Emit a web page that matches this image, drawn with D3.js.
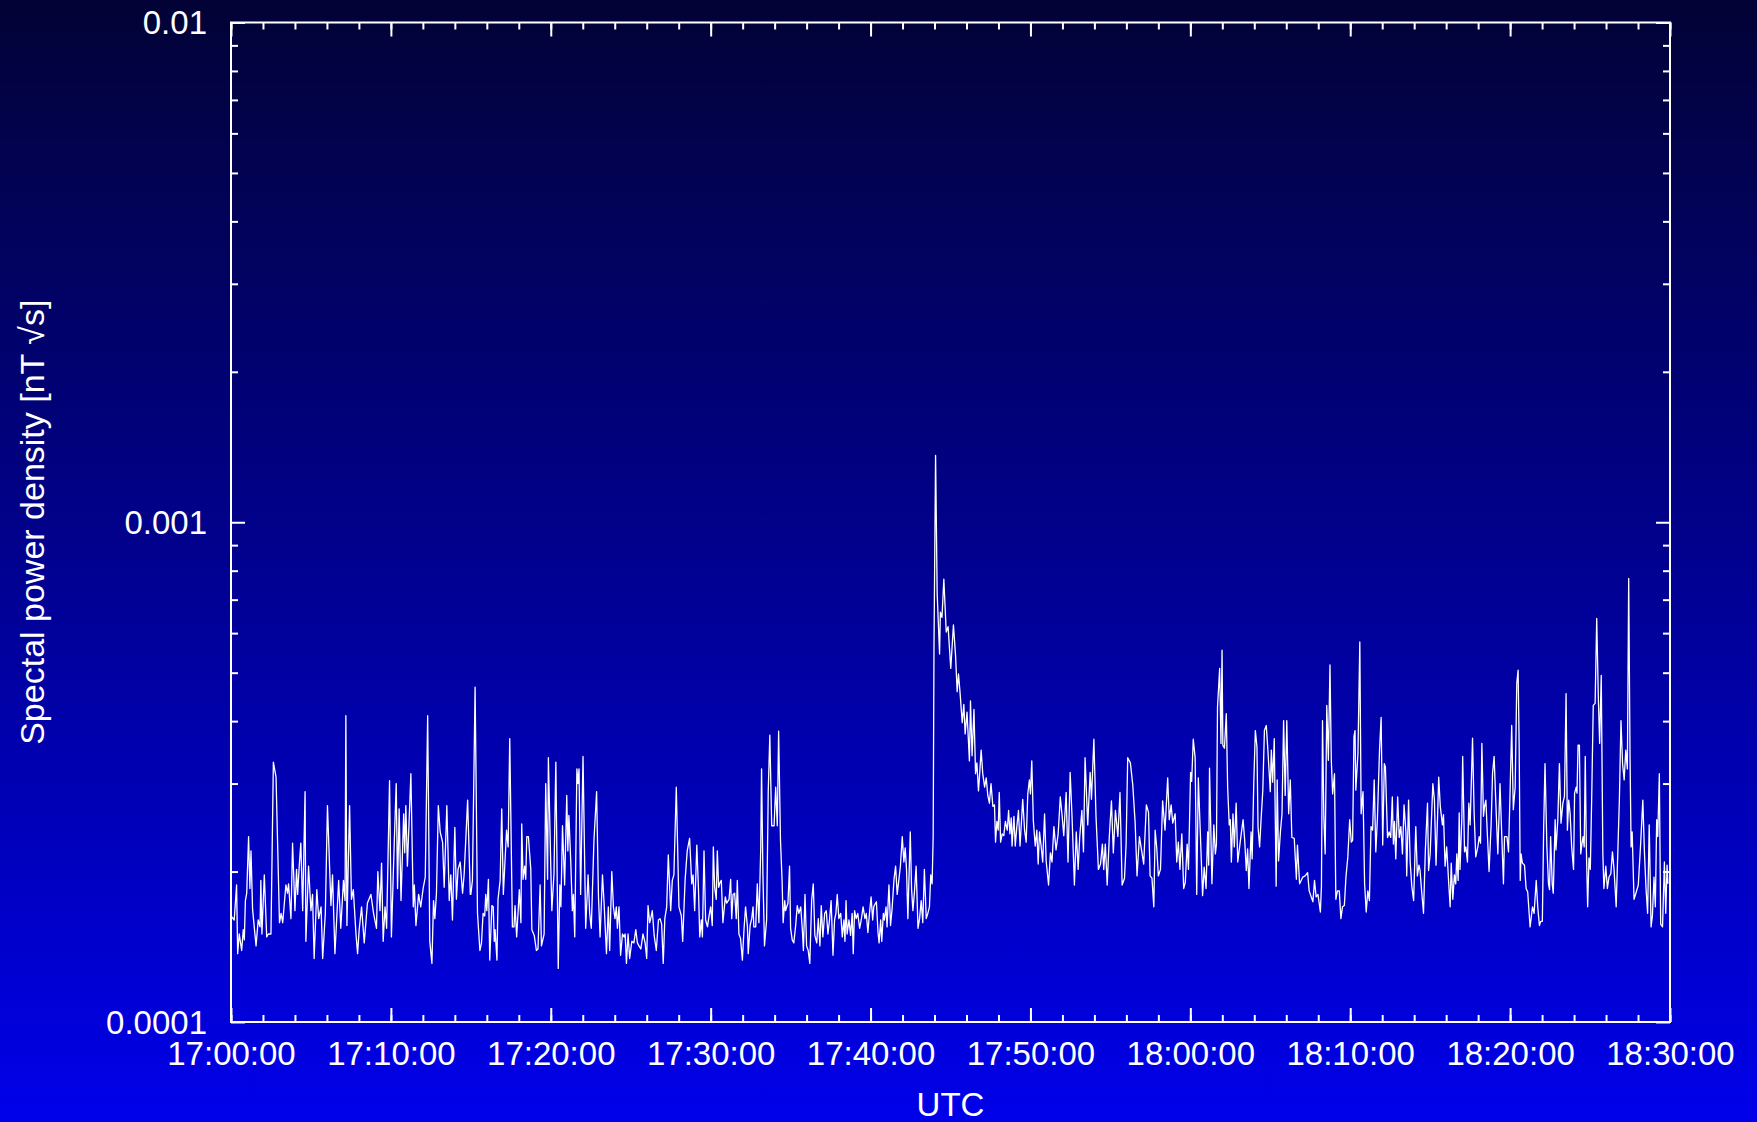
<!DOCTYPE html>
<html>
<head>
<meta charset="utf-8">
<script src="https://cdn.jsdelivr.net/npm/d3@7"></script>
<style>
html, body { margin: 0; padding: 0; background: #00008a; }
svg { display: block; }
</style>
</head>
<body>
<svg id="chart" width="1757" height="1122"></svg>
<script>
// spectral power density, values in units of 1e-4 nT*sqrt(s)
// each pair: [seconds after 17:00:00 UTC, value]
var UNIT = 1e-4;

var seg1700 = [[0,1.63],[12,1.60],[21,1.88],[25,1.37],[31,1.50],[40,1.39],[46,1.53],[50,1.46],[54,1.75],[59,1.81],
  [66,2.35],[71,1.85],[75,2.20],[81,1.68],[94,1.42],[102,1.60],[109,1.55],[112,1.92],[116,1.50],[125,1.97],
  [134,1.48],[140,1.50],[150,1.50],[159,3.31],[169,3.09],[182,1.58],[188,1.65],[194,1.58],[206,1.88],[212,1.81],
  [216,1.89],[225,1.61],[231,2.28],[240,1.67],[246,2.02],[250,1.80],[256,2.05],[262,2.28],[269,1.67],[278,2.89],
  [281,1.45],[291,2.05],[300,1.67],[306,1.80],[312,1.34],[322,1.84],[329,1.61],[338,1.70],[344,1.34],[354,1.65],
  [362,2.71],[375,1.71],[381,1.97],[390,1.37],[404,1.92],[412,1.54],[422,1.92],[428,1.75],[431,4.10],[435,1.56],
  [445,2.71],[452,1.76],[459,1.84],[469,1.50],[475,1.37],[481,1.53],[490,1.70],[500,1.44],[512,1.73],[525,1.80],
  [535,1.65],[546,1.54],[551,2.00],[559,1.67],[565,2.08],[571,1.45],[578,1.70],[584,1.54],[595,3.04],[602,1.48],
  [612,2.23],[620,3.00],[625,1.85],[631,2.67],[638,1.75],[648,2.61],[652,2.18],[656,2.71],[662,2.05],[675,3.14],
  [684,1.70],[688,1.88],[694,1.56],[704,1.80],[712,1.70],[721,1.85],[729,1.95],[738,4.10],[746,1.45],[754,1.31],
  [760,1.75],[765,1.61],[771,1.81],[778,2.71],[785,2.40],[794,2.29],[800,1.86],[810,2.71],[819,1.75],[825,1.97],
  [831,1.60],[840,2.45],[846,1.76],[852,2.02],[860,2.09],[869,1.81],[875,1.98],[888,2.78],[898,1.80]];

var seg1715 = [[900,1.80],[906,1.92],[916,4.68],[925,1.65],[934,1.39],[940,1.44],[946,1.65],[952,1.63],[956,1.80],[960,1.67],
  [966,1.93],[971,1.33],[979,1.71],[984,1.70],[988,1.45],[991,1.53],[998,1.33],[1002,1.76],[1010,1.92],[1016,2.67],
  [1022,1.80],[1034,2.42],[1040,2.24],[1046,3.69],[1056,1.55],[1062,1.55],[1066,1.71],[1072,1.48],[1082,1.84],[1088,1.58],
  [1091,2.49],[1096,1.93],[1102,2.05],[1106,1.93],[1110,2.35],[1116,2.35],[1125,2.02],[1129,1.53],[1138,1.49],[1146,1.39],
  [1152,1.40],[1160,1.88],[1165,1.42],[1175,1.50],[1181,3.00],[1188,1.93],[1191,3.38],[1200,2.05],[1204,1.67],[1212,1.98],
  [1219,3.31],[1228,1.28],[1234,1.88],[1238,1.70],[1244,2.47],[1252,1.88],[1260,2.84],[1264,2.20],[1268,2.59],[1275,2.09],
  [1281,1.67],[1285,1.80],[1290,1.48],[1298,3.21],[1302,3.00],[1306,3.21],[1312,1.80],[1321,3.40],[1331,1.54],[1340,1.97],
  [1346,1.65],[1352,1.54],[1362,2.31],[1372,2.89],[1379,1.78],[1385,1.48],[1394,1.97],[1400,1.73],[1409,1.37],[1416,1.70],
  [1421,1.39],[1429,2.00],[1435,1.70],[1441,1.61],[1446,1.70],[1450,1.54],[1456,1.70],[1462,1.36],[1469,1.50],[1475,1.48],
  [1479,1.50],[1484,1.31],[1490,1.50],[1496,1.34],[1504,1.45],[1512,1.44],[1519,1.53],[1525,1.44],[1531,1.42],[1538,1.40],
  [1546,1.50],[1554,1.44],[1560,1.34],[1565,1.71],[1571,1.58],[1575,1.61],[1581,1.67],[1588,1.49],[1596,1.39],[1604,1.60],
  [1610,1.61],[1616,1.57],[1622,1.31],[1628,1.61],[1635,1.70],[1641,2.16],[1650,1.67],[1656,1.92],[1662,1.97],[1671,2.95],
  [1681,1.70],[1690,1.63],[1695,1.45],[1704,1.92],[1712,2.20],[1721,2.33],[1729,1.89],[1734,1.97],[1740,1.67],[1748,2.26],
  [1754,1.86],[1759,1.48],[1765,1.60],[1769,1.48],[1775,2.20],[1781,1.60],[1788,1.55],[1794,1.63]];

var seg1730 = [[1800,1.70],[1806,1.56],[1810,2.24],[1815,1.86],[1821,1.76],[1825,2.20],[1830,1.86],[1835,1.90],[1840,1.92],[1846,1.58],
  [1855,1.78],[1860,1.73],[1869,1.76],[1875,1.93],[1879,1.61],[1884,1.80],[1890,1.81],[1896,1.61],[1900,1.92],[1906,1.50],
  [1912,1.47],[1919,1.33],[1925,1.53],[1931,1.70],[1938,1.55],[1941,1.37],[1948,1.56],[1954,1.61],[1959,1.70],[1962,1.55],
  [1969,1.55],[1975,1.89],[1981,1.58],[1988,2.24],[1991,3.21],[1996,1.98],[2002,1.42],[2010,1.60],[2016,2.89],[2022,3.75],
  [2029,2.47],[2038,2.47],[2044,2.95],[2050,2.47],[2055,3.82],[2062,2.31],[2068,1.92],[2072,1.58],[2078,1.75],[2081,1.67],
  [2090,1.73],[2096,2.05],[2100,1.54],[2106,1.46],[2112,1.44],[2119,1.56],[2125,1.71],[2131,1.65],[2138,1.70],[2144,1.53],
  [2148,1.39],[2154,1.80],[2160,1.42],[2166,1.39],[2172,1.31],[2179,1.75],[2185,1.89],[2191,1.49],[2198,1.44],[2204,1.61],
  [2210,1.42],[2215,1.71],[2221,1.48],[2228,1.65],[2234,1.67],[2240,1.50],[2246,1.60],[2252,1.75],[2259,1.36],[2265,1.60],
  [2270,1.65],[2275,1.80],[2281,1.61],[2288,1.65],[2294,1.48],[2300,1.60],[2304,1.45],[2308,1.75],[2312,1.50],[2319,1.60],
  [2325,1.49],[2331,1.65],[2335,1.37],[2340,1.67],[2346,1.61],[2352,1.65],[2359,1.54],[2365,1.60],[2372,1.70],[2379,1.61],
  [2384,1.65],[2390,1.51],[2396,1.65],[2402,1.78],[2408,1.60],[2412,1.70],[2419,1.73],[2422,1.74],[2428,1.51],[2432,1.44],
  [2438,1.60],[2442,1.45],[2448,1.65],[2452,1.60],[2458,1.70],[2462,1.55],[2469,1.88],[2475,1.56],[2481,1.69],[2488,1.93],
  [2494,2.05],[2500,1.80],[2506,1.92],[2512,2.05],[2519,2.35],[2525,2.09],[2530,2.23],[2535,2.02],[2540,1.61],[2549,2.40],
  [2554,1.84],[2559,1.67],[2565,1.83],[2571,2.05],[2578,1.54],[2584,1.61],[2590,1.75],[2596,1.58],[2602,2.02],[2609,1.61],
  [2615,1.65],[2621,1.70],[2626,1.97],[2631,1.89],[2635,2.35],[2638,5.59],[2644,13.6],[2650,7.19],[2659,5.45],[2662,6.61],
  [2668,6.45],[2675,7.69],[2684,6.03],[2691,6.18]];

var seg1745 = [[2701,5.10],[2711,6.23],[2719,5.41],[2725,4.58],[2730,4.97],[2736,4.55],[2744,3.97],[2750,4.32],[2755,3.77],[2762,4.17],
  [2771,3.33],[2775,4.39],[2781,3.41],[2788,4.22],[2794,3.14],[2799,3.30],[2805,2.90],[2809,3.11],[2815,3.50],[2821,3.14],
  [2828,2.95],[2834,3.08],[2840,2.84],[2846,2.74],[2852,3.00],[2859,2.70],[2865,2.72],[2869,2.29],[2874,2.52],[2879,2.42],
  [2883,2.88],[2888,2.29],[2894,2.38],[2900,2.36],[2906,2.52],[2913,2.42],[2918,2.65],[2923,2.38],[2928,2.56],[2931,2.25],
  [2938,2.58],[2943,2.25],[2949,2.46],[2955,2.65],[2961,2.25],[2971,2.79],[2978,2.42],[2984,2.29],[2990,2.86],[2996,3.05],
  [3000,2.86],[3005,3.33],[3011,2.52],[3018,2.25],[3024,2.42],[3029,2.07],[3034,2.40],[3040,2.25],[3046,2.09],[3053,2.61],
  [3059,2.10],[3068,1.88],[3075,2.18],[3081,2.09],[3088,2.46],[3096,2.21],[3104,2.38],[3112,2.82],[3119,2.58],[3125,2.36],
  [3134,2.88],[3141,2.09],[3149,3.16],[3156,2.58],[3165,1.88],[3172,2.40],[3179,2.02],[3185,2.35],[3193,2.65],[3199,2.19],
  [3205,3.38],[3215,2.48],[3224,3.16],[3229,2.79],[3238,3.68],[3246,2.58],[3255,2.02],[3263,2.07],[3270,2.27],[3275,2.02],
  [3281,2.27],[3288,1.88],[3296,2.35],[3304,2.77],[3311,2.18],[3319,2.65],[3328,2.35],[3336,2.88],[3344,1.88],[3353,1.94],
  [3359,2.27],[3365,3.38],[3375,3.30],[3384,2.98],[3393,2.50],[3400,1.96],[3409,2.35],[3418,2.19],[3425,2.07],[3435,2.72],
  [3443,2.63],[3449,1.96],[3456,1.94],[3463,1.70],[3468,2.42],[3474,2.23],[3480,1.96],[3488,2.02],[3496,2.77],[3505,2.42],
  [3515,3.08],[3521,2.54],[3528,2.72],[3534,2.50],[3543,2.61],[3549,2.09],[3555,2.29],[3561,2.02],[3568,2.38],[3575,1.85],
  [3581,1.90],[3588,2.27],[3593,2.02]];

var seg1800 = [[3601,3.16],[3605,3.03],[3611,3.68],[3618,3.38],[3624,1.80],[3630,3.08],[3646,1.79],[3652,2.04],[3659,1.85],[3665,2.40],
  [3669,2.06],[3672,3.22],[3681,1.89],[3688,2.48],[3694,2.17],[3698,2.27],[3702,4.27],[3710,5.10],[3715,3.61],[3719,5.55],
  [3722,3.58],[3728,3.53],[3735,4.14],[3740,2.95],[3746,2.48],[3750,2.54],[3754,2.09],[3760,2.61],[3765,2.24],[3772,2.74],
  [3778,2.09],[3784,2.22],[3791,2.38],[3798,2.54],[3804,2.31],[3810,2.01],[3815,2.22],[3820,1.85],[3828,2.40],[3832,2.12],
  [3838,3.00],[3844,3.83],[3850,3.55],[3854,2.46],[3860,2.24],[3866,2.57],[3872,2.91],[3878,3.83],[3885,3.92],[3891,3.50],
  [3900,2.89],[3904,3.50],[3909,3.02],[3915,3.69],[3922,1.87],[3926,3.05],[3931,2.10],[3938,2.40],[3944,2.61],[3950,4.01],
  [3956,2.84],[3962,4.01],[3969,2.61],[3975,3.05],[3981,2.34],[3990,2.33],[3998,1.93],[4002,2.26],[4010,1.89],[4016,1.92],
  [4022,1.95],[4031,1.96],[4040,1.99],[4046,1.83],[4052,1.79],[4060,1.74],[4066,1.92],[4072,1.78],[4079,1.80],[4088,1.66],
  [4092,1.87],[4096,4.01],[4101,2.57],[4106,2.17],[4112,4.30],[4118,3.34],[4124,5.18],[4129,3.34],[4134,2.86],[4141,3.14],
  [4146,1.76],[4152,1.83],[4159,1.83],[4165,1.61],[4171,1.70],[4178,1.71],[4184,1.95],[4191,2.14],[4198,2.54],[4204,2.29],
  [4209,2.31],[4214,3.72],[4218,3.83],[4221,2.91],[4229,3.45],[4236,5.76],[4241,2.61],[4248,2.89],[4254,1.89],[4260,1.66],
  [4266,1.83],[4272,1.75],[4278,2.46],[4284,2.42],[4290,3.05],[4296,2.19],[4302,2.55],[4310,3.50],[4316,4.07],[4322,2.26],
  [4328,3.29],[4332,3.24],[4340,2.34],[4346,2.40],[4352,2.34],[4358,2.82],[4362,2.27],[4366,2.52],[4371,2.12],[4378,2.82],
  [4384,2.34],[4390,2.46],[4396,2.17],[4402,2.72],[4409,2.40],[4412,1.96],[4419,2.78],[4425,2.09],[4431,1.87],[4438,1.75],
  [4446,2.46],[4452,1.96],[4458,2.06],[4462,2.01],[4469,1.80],[4475,1.65],[4482,2.21],[4490,2.74],[4494,2.01],[4500,2.17]];

var seg1815 = [[4510,3.00],[4516,2.78],[4522,2.06],[4528,2.60],[4532,3.09],[4538,2.70],[4546,2.48],[4550,2.60],[4556,2.05],[4562,2.24],
  [4569,1.92],[4575,1.70],[4579,2.08],[4585,1.76],[4591,1.97],[4596,1.89],[4600,2.17],[4605,1.92],[4609,2.62],[4612,2.02],
  [4619,2.58],[4622,3.40],[4629,2.19],[4634,2.24],[4640,2.09],[4645,2.74],[4650,2.48],[4659,3.70],[4665,2.62],[4671,2.14],
  [4679,2.24],[4684,2.35],[4689,2.28],[4694,3.61],[4700,2.58],[4704,2.70],[4709,2.78],[4715,2.35],[4721,2.00],[4729,2.50],
  [4734,3.14],[4740,3.40],[4746,2.78],[4754,2.17],[4762,3.00],[4768,2.42],[4775,1.89],[4779,2.35],[4788,2.35],[4794,2.19],
  [4800,2.91],[4806,3.92],[4812,2.66],[4819,2.95],[4825,4.76],[4830,5.06],[4834,3.56],[4838,1.92],[4841,2.17],[4846,2.08],
  [4854,2.06],[4860,1.85],[4866,1.82],[4875,1.55],[4884,1.70],[4890,1.65],[4898,1.92],[4904,1.69],[4910,1.56],[4915,1.59],
  [4921,1.59],[4926,2.46],[4931,3.29],[4938,2.24],[4944,1.89],[4948,1.84],[4952,2.35],[4958,1.89],[4962,1.81],[4969,2.54],
  [4972,2.21],[4979,2.54],[4985,3.29],[4991,2.50],[4998,2.74],[5004,2.83],[5010,4.54],[5015,2.42],[5020,2.78],[5025,2.62],
  [5031,2.24],[5038,2.02],[5042,2.87],[5048,2.95],[5051,2.87],[5055,3.58],[5060,3.58],[5065,2.17],[5070,2.28],[5074,2.35],
  [5078,2.24],[5082,3.40],[5086,2.24],[5091,1.70],[5096,2.13],[5101,2.02],[5106,2.78],[5112,4.30],[5119,4.34],[5125,6.42],
  [5131,4.47],[5136,3.61],[5142,4.94],[5148,2.17],[5152,1.85],[5159,2.05],[5165,1.85],[5171,1.95],[5178,1.98],[5184,2.19],
  [5190,2.02],[5198,1.70],[5204,2.17],[5210,2.78],[5216,4.01],[5222,3.29],[5228,3.05],[5234,3.50],[5240,3.21],[5245,7.72],
  [5250,3.40],[5254,2.24],[5258,2.40],[5265,1.76],[5272,1.81],[5281,1.88],[5290,2.28],[5298,2.78],[5304,2.19],[5310,1.85],
  [5316,1.65],[5322,2.48],[5329,1.55],[5334,1.63],[5340,1.95],[5345,1.70],[5350,2.54],[5354,2.35],[5360,3.14],[5365,1.57],
  [5372,1.55],[5379,2.09],[5384,1.65],[5389,2.06],[5392,1.89]];

var yMajor = [1e-4, 1e-3, 1e-2];
var yLabels = ["0.0001", "0.001", "0.01"];
var xLabel = "UTC";
var yTitle = "Spectal power density [nT \u221As]";

var W = 1757, H = 1122;
var margin = {top: 22.5, right: 87, bottom: 100, left: 231};
var width = W - margin.left - margin.right,
    height = H - margin.top - margin.bottom;
var FONT = '"Liberation Sans", Arial, Helvetica, sans-serif';
var FS = 33;

var t0 = Date.UTC(2000, 0, 1, 17, 0, 0);
var samples = [].concat(seg1700, seg1715, seg1730, seg1745, seg1800, seg1815)
  .map(function(d) { return {t: new Date(t0 + d[0] * 1000), v: d[1] * UNIT}; });

var svg = d3.select("#chart");

// background gradient, dark navy at top to bright blue at bottom
var grad = svg.append("defs").append("linearGradient")
    .attr("id", "bg").attr("x1", 0).attr("y1", 0).attr("x2", 0).attr("y2", 1);
grad.append("stop").attr("offset", "0%").attr("stop-color", "#020236");
grad.append("stop").attr("offset", "100%").attr("stop-color", "#0000ea");
svg.append("rect").attr("width", W).attr("height", H).attr("fill", "url(#bg)");

svg.select("defs").append("clipPath").attr("id", "clip")
  .append("rect").attr("width", width).attr("height", height);

var g = svg.append("g")
    .attr("transform", "translate(" + margin.left + "," + margin.top + ")");

var x = d3.scaleUtc()
    .domain([new Date(t0), new Date(t0 + 5400 * 1000)])
    .range([0, width]);
var y = d3.scaleLog()
    .domain([1e-4, 1e-2])
    .range([height, 0]);

var yMinor = y.ticks().filter(function(v) { return yMajor.indexOf(v) < 0 && Math.abs(Math.log10(v) % 1) > 1e-6; });
var fmt = d3.utcFormat("%H:%M:%S");

function style(sel) {
  sel.select(".domain").remove();
  sel.selectAll("line").attr("stroke", "#fff").attr("stroke-width", 2);
  sel.selectAll("text").attr("fill", "#fff").attr("font-size", FS).attr("font-family", FONT);
  sel.attr("font-family", FONT);
}

// x axis: minor every 2 min, major every 10 min, ticks on both edges pointing in
g.append("g").attr("transform", "translate(0," + height + ")")
  .call(d3.axisBottom(x).ticks(d3.utcMinute.every(2)).tickSize(-7).tickFormat(""))
  .call(style);
g.append("g").attr("transform", "translate(0," + height + ")")
  .call(d3.axisBottom(x).ticks(d3.utcMinute.every(10)).tickSize(-14).tickPadding(20).tickFormat(fmt))
  .call(style);
g.append("g")
  .call(d3.axisTop(x).ticks(d3.utcMinute.every(2)).tickSize(-7).tickFormat(""))
  .call(style);
g.append("g")
  .call(d3.axisTop(x).ticks(d3.utcMinute.every(10)).tickSize(-14).tickFormat(""))
  .call(style);

// y axis (log)
g.append("g")
  .call(d3.axisLeft(y).tickValues(yMinor).tickSize(-7).tickFormat(""))
  .call(style);
g.append("g")
  .call(d3.axisLeft(y).tickValues(yMajor).tickSize(-14).tickPadding(24)
    .tickFormat(function(d, i) { return yLabels[i]; }))
  .call(style)
  .selectAll("text").attr("dy", "0.34em");
g.append("g").attr("transform", "translate(" + width + ",0)")
  .call(d3.axisRight(y).tickValues(yMinor).tickSize(-7).tickFormat(""))
  .call(style);
g.append("g").attr("transform", "translate(" + width + ",0)")
  .call(d3.axisRight(y).tickValues(yMajor).tickSize(-14).tickFormat(""))
  .call(style);

// data line
var line = d3.line()
    .x(function(d) { return x(d.t); })
    .y(function(d) { return y(d.v); });

g.append("path")
    .datum(samples)
    .attr("clip-path", "url(#clip)")
    .attr("fill", "none")
    .attr("stroke", "#fff")
    .attr("stroke-width", 1.3)
    .attr("stroke-linejoin", "round")
    .attr("d", line);

// frame
g.append("rect")
    .attr("width", width).attr("height", height)
    .attr("fill", "none").attr("stroke", "#fff").attr("stroke-width", 2);

// axis titles
svg.append("text")
    .attr("x", margin.left + width / 2).attr("y", 1116)
    .attr("text-anchor", "middle")
    .attr("fill", "#fff").attr("font-size", FS).attr("font-family", FONT)
    .text(xLabel);

svg.append("text")
    .attr("transform", "translate(44," + (margin.top + height / 2) + ") rotate(-90)")
    .attr("text-anchor", "middle")
    .attr("fill", "#fff").attr("font-size", 34).attr("font-family", FONT)
    .text(yTitle);
</script>
</body>
</html>
